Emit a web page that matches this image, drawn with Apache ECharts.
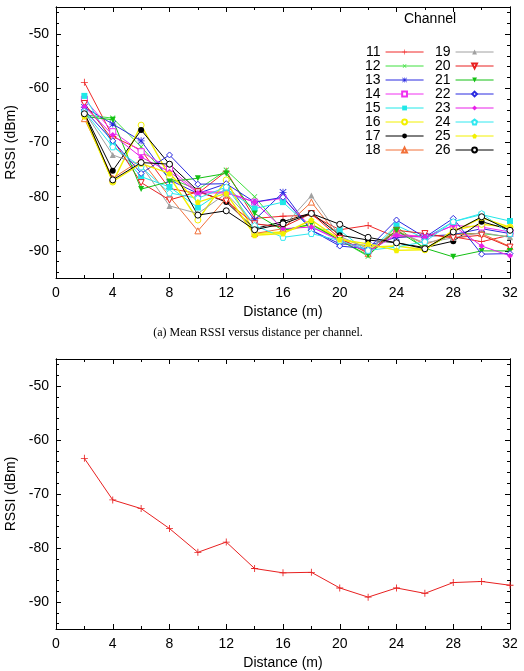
<!DOCTYPE html>
<html>
<head>
<meta charset="utf-8">
<script src="https://cdn.jsdelivr.net/npm/echarts@6/dist/echarts.min.js"></script>
<style>
  html, body { margin: 0; padding: 0; background: #fff; }
  #chart { width: 524px; height: 671px; }
</style>
</head>
<body>
<div id="chart"></div>
<script>
// distances (m)
var distances = [2, 4, 6, 8, 10, 12, 14, 16, 18, 20, 22, 24, 26, 28, 30, 32];

// mean RSSI per channel (dBm)
var ch11 = [-58.9, -68.9, -71.4, -78.5, -79.4, -75.3, -84.0, -83.6, -83.4, -86.1, -85.3, -87.5, -87.1, -87.4, -88.3, -87.1];
var ch12 = [-64.9, -65.5, -70.8, -76.6, -78.7, -75.1, -80.0, -86.2, -85.1, -88.0, -91.0, -85.5, -89.6, -86.8, -86.8, -87.4];
var ch13 = [-63.5, -66.6, -69.7, -76.9, -79.4, -77.6, -84.3, -79.2, -86.2, -88.7, -89.0, -87.5, -87.3, -87.0, -85.9, -86.8];
var ch14 = [-62.0, -68.0, -71.7, -74.8, -79.1, -79.1, -81.0, -80.3, -85.6, -87.8, -90.0, -86.8, -87.5, -85.3, -85.6, -86.5];
var ch15 = [-61.4, -70.3, -76.3, -78.2, -82.0, -78.5, -82.2, -81.0, -85.9, -86.2, -90.3, -85.3, -87.7, -84.6, -83.3, -84.5];
var ch16 = [-64.7, -77.3, -66.8, -76.3, -84.3, -76.9, -86.8, -86.5, -85.1, -87.7, -89.3, -89.1, -89.8, -86.2, -85.1, -85.6];
var ch17 = [-64.6, -75.2, -67.7, -74.0, -78.9, -81.0, -85.9, -84.6, -83.0, -87.1, -88.0, -88.5, -89.4, -88.2, -84.6, -86.1];
var ch18 = [-65.6, -76.6, -73.2, -80.0, -86.3, -80.3, -86.8, -85.9, -81.0, -87.6, -90.5, -86.2, -88.8, -87.0, -86.8, -89.2];
var ch19 = [-64.3, -72.3, -74.2, -81.7, -83.1, -79.4, -85.0, -85.6, -79.8, -87.3, -89.6, -86.5, -88.5, -87.6, -86.6, -87.5];
var ch20 = [-62.8, -69.5, -77.4, -80.6, -79.1, -80.8, -85.0, -85.6, -83.1, -87.7, -90.3, -86.2, -86.8, -87.6, -87.1, -89.3];
var ch21 = [-65.2, -65.8, -78.6, -77.2, -76.6, -75.7, -83.1, -86.2, -85.1, -88.0, -90.8, -86.2, -89.5, -91.1, -90.0, -90.0];
var ch22 = [-64.0, -69.7, -75.7, -72.3, -77.7, -77.6, -81.0, -80.1, -86.2, -89.1, -89.6, -84.3, -87.5, -84.0, -90.6, -90.5];
var ch23 = [-63.4, -68.6, -72.7, -75.4, -79.3, -79.3, -81.0, -85.9, -85.6, -88.1, -90.1, -87.1, -87.5, -85.3, -89.1, -90.9];
var ch24 = [-64.3, -70.8, -74.5, -79.3, -80.3, -78.2, -85.3, -87.5, -86.8, -88.1, -89.9, -89.3, -88.3, -84.6, -83.1, -86.8];
var ch25 = [-65.2, -77.2, -73.9, -75.7, -81.0, -79.4, -87.1, -86.8, -84.3, -87.9, -88.7, -89.9, -89.8, -86.4, -83.9, -85.6];
var ch26 = [-64.7, -76.9, -73.7, -74.0, -83.4, -82.6, -86.1, -85.0, -83.1, -85.1, -87.5, -88.5, -89.6, -86.5, -83.7, -86.2];

// mean over all channels
var meanRssi = [-63.4, -71.1, -72.7, -76.4, -80.8, -78.9, -83.8, -84.6, -84.5, -87.4, -89.1, -87.4, -88.4, -86.4, -86.2, -86.9];

var channelNames = ["11", "12", "13", "14", "15", "16", "17", "18", "19", "20", "21", "22", "23", "24", "25", "26"];
var channelValues = [ch11, ch12, ch13, ch14, ch15, ch16, ch17, ch18, ch19, ch20, ch21, ch22, ch23, ch24, ch25, ch26];

// tick labels
var xTicks = [0, 4, 8, 12, 16, 20, 24, 28, 32];
var yMajor = [-90, -80, -70, -60, -50];
var yMinor = [-94, -92, -88, -86, -84, -82, -78, -76, -74, -72, -68, -66, -64, -62, -58, -56, -54, -52, -48, -46];

// styles
var PLUS = "path://M4.4,0H5.6V10H4.4Z M0,4.4H10V5.6H0Z";
var STAR = "path://M4.4,0H5.6V10H4.4Z M0,4.4H10V5.6H0Z M0.8,0L5,4.2L9.2,0L10,0.8L5.8,5L10,9.2L9.2,10L5,5.8L0.8,10L0,9.2L4.2,5L0,0.8Z";
var PENT = "path://M5,0L10,3.8L8.1,10L1.9,10L0,3.8Z";
var colors = ["#f02828", "#3ee03e", "#2a2ae0", "#f030f0", "#20e8e8", "#f2f000", "#000000", "#f27038",
              "#a0a0a0", "#e82020", "#14c014", "#2a2ae0", "#e820e8", "#30e8f0", "#f2f000", "#000000"];
var symbols = [PLUS, PLUS, STAR, "rect", "rect", "circle", "circle", "triangle",
               "triangle", "triangle", "triangle", "diamond", "diamond", PENT, PENT, "circle"];
var rotates = [0, 45, 0, 0, 0, 0, 0, 0, 0, 180, 180, 0, 0, 0, 0, 0];
var hollow = [false, false, false, true, false, true, false, true, false, true, false, true, false, true, false, true];

var FONT = "Liberation Sans";

function zip(xs, ys) {
  return xs.map(function (x, i) { return [x, ys[i]]; });
}

var chart = echarts.init(document.getElementById("chart"));

var series = channelNames.map(function (name, i) {
  return {
    name: name,
    type: "line",
    xAxisIndex: 0,
    yAxisIndex: 0,
    data: zip(distances, channelValues[i]),
    symbol: symbols[i],
    symbolRotate: rotates[i],
    symbolSize: symbols[i] === PLUS || symbols[i] === STAR ? 7 : 6,
    showAllSymbol: true,
    lineStyle: { color: colors[i], width: i === 5 || i === 14 ? 1.4 : 1 },
    itemStyle: hollow[i]
      ? { color: "#fff", borderColor: colors[i], borderWidth: 1 }
      : { color: colors[i], borderWidth: 0 },
    emphasis: { disabled: true }
  };
});

series.push({
  name: "mean",
  type: "line",
  xAxisIndex: 2,
  yAxisIndex: 4,
  data: zip(distances, meanRssi),
  symbol: PLUS,
  symbolSize: 7,
  lineStyle: { color: "#e82020", width: 1 },
  itemStyle: { color: "#e82020" },
  emphasis: { disabled: true }
});

function xAxes(gi) {
  var common = {
    gridIndex: gi,
    type: "value",
    min: 0,
    max: 32,
    interval: 4,
    splitLine: { show: false },
    axisLine: { lineStyle: { color: "#000", width: 1 } },
    axisTick: { inside: true, length: 5, lineStyle: { color: "#000" } },
    minorTick: { show: true, splitNumber: 2, length: 3, lineStyle: { color: "#000" } }
  };
  return [
    Object.assign({}, common, {
      position: "bottom",
      axisLabel: { color: "#000", fontSize: 14, fontFamily: FONT, margin: 8, customValues: xTicks },
      name: "Distance (m)",
      nameLocation: "middle",
      nameGap: 27,
      nameTextStyle: { color: "#000", fontSize: 14, fontFamily: FONT }
    }),
    Object.assign({}, common, { position: "top", axisLabel: { show: false } })
  ];
}

function yAxes(gi) {
  var common = {
    gridIndex: gi,
    type: "value",
    min: -95,
    max: -45,
    splitLine: { show: false },
    axisLine: { lineStyle: { color: "#000", width: 1 } }
  };
  var major = { inside: true, length: 5, customValues: yMajor, lineStyle: { color: "#000" } };
  var minor = { inside: true, length: 3, customValues: yMinor, lineStyle: { color: "#000" } };
  return [
    Object.assign({}, common, {
      position: "left",
      axisTick: major,
      axisLabel: { color: "#000", fontSize: 14, fontFamily: FONT, margin: 7, customValues: yMajor },
      name: "RSSI (dBm)",
      nameLocation: "middle",
      nameGap: 38,
      nameTextStyle: { color: "#000", fontSize: 14, fontFamily: FONT }
    }),
    Object.assign({}, common, { position: "left", axisTick: minor, axisLabel: { show: false } }),
    Object.assign({}, common, { position: "right", axisTick: major, axisLabel: { show: false } }),
    Object.assign({}, common, { position: "right", axisTick: minor, axisLabel: { show: false } })
  ];
}

function legendCol(names, left) {
  return {
    data: names,
    orient: "vertical",
    left: left,
    top: 40,
    align: "right",
    itemWidth: 38,
    itemHeight: 6,
    itemGap: 0,
    selectedMode: false,
    lineStyle: { width: 1 },
    textStyle: { color: "#000", fontSize: 14, fontFamily: FONT, lineHeight: 14 }
  };
}

var option = {
  animation: false,
  backgroundColor: "#fff",
  grid: [
    { left: 56, top: 7, width: 454, height: 271, outerBoundsMode: "none" },
    { left: 56, top: 359, width: 454, height: 270, outerBoundsMode: "none" }
  ],
  xAxis: xAxes(0).concat(xAxes(1)),
  yAxis: yAxes(0).concat(yAxes(1)),
  legend: [
    legendCol(channelNames.slice(0, 8), 360),
    legendCol(channelNames.slice(8), 430)
  ],
  graphic: [
    {
      type: "text",
      x: 430,
      y: 19,
      style: { text: "Channel", fontSize: 14, fontFamily: FONT, fill: "#000", align: "center", verticalAlign: "middle" }
    },
    {
      type: "text",
      x: 258,
      y: 333,
      style: { text: "(a) Mean RSSI versus distance per channel.", fontSize: 12, fontFamily: "Liberation Serif", fill: "#000", align: "center", verticalAlign: "middle" }
    }
  ],
  series: series
};

chart.setOption(option);
</script>
</body>
</html>
